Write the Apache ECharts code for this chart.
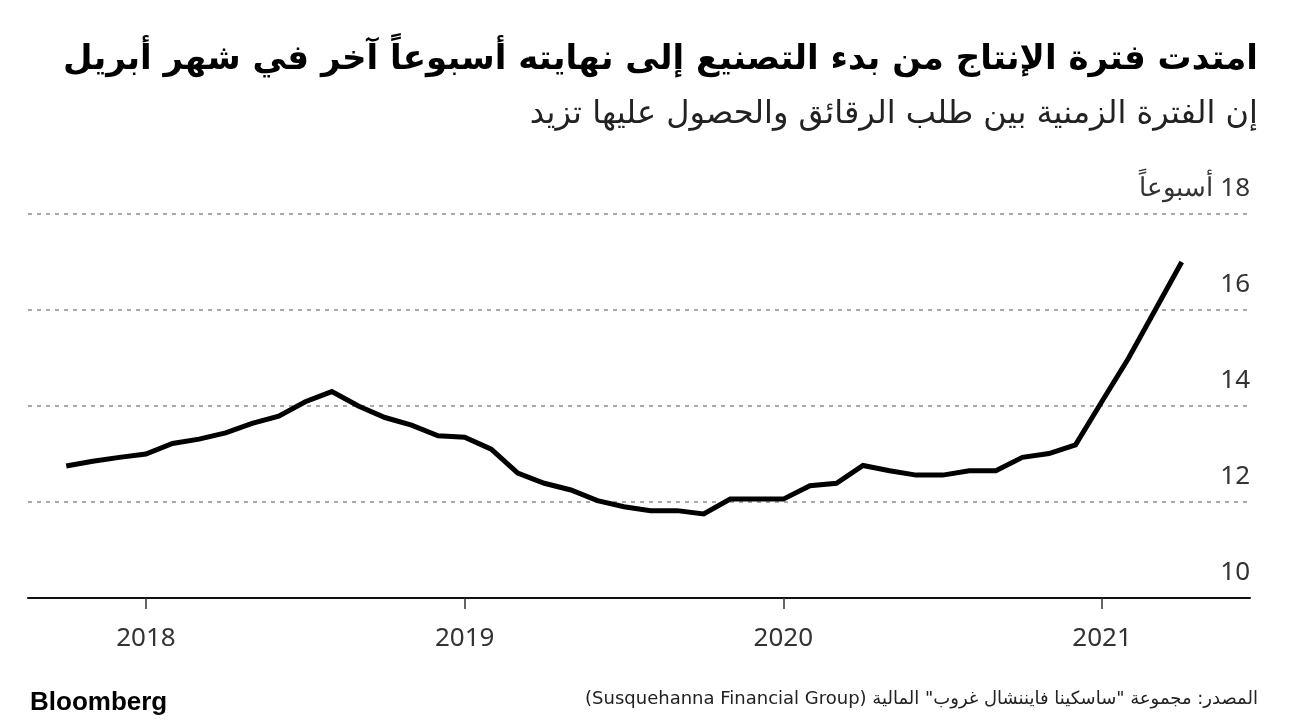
<!DOCTYPE html>
<html>
<head>
<meta charset="utf-8">
<script src="https://cdn.jsdelivr.net/npm/echarts@6/dist/echarts.min.js"></script>
<style>
html,body{margin:0;padding:0;background:#fff;}
#chart{width:1296px;height:728px;direction:rtl;}
</style>
</head>
<body>
<div id="chart"></div>
<script>
const titleText = 'امتدت فترة الإنتاج من بدء التصنيع إلى نهايته أسبوعاً آخر في شهر أبريل';
const subtitleText = 'إن الفترة الزمنية بين طلب الرقائق والحصول عليها تزيد';
const sourceText = 'المصدر: مجموعة "ساسكينا فايننشال غروب" المالية (Susquehanna Financial Group)';
const unitText = 'أسبوعاً';

const months = [
  '2017-10','2017-11','2017-12',
  '2018-01','2018-02','2018-03','2018-04','2018-05','2018-06','2018-07','2018-08','2018-09','2018-10','2018-11','2018-12',
  '2019-01','2019-02','2019-03','2019-04','2019-05','2019-06','2019-07','2019-08','2019-09','2019-10','2019-11','2019-12',
  '2020-01','2020-02','2020-03','2020-04','2020-05','2020-06','2020-07','2020-08','2020-09','2020-10','2020-11','2020-12',
  '2021-01','2021-02','2021-03','2021-04'
];
const leadTimeWeeks = [
  12.75,12.85,12.93,
  13.0,13.22,13.31,13.44,13.64,13.79,14.09,14.30,14.0,13.76,13.6,13.38,
  13.35,13.1,12.6,12.39,12.25,12.03,11.9,11.82,11.82,11.75,12.06,12.06,
  12.06,12.34,12.39,12.76,12.65,12.56,12.56,12.65,12.65,12.93,13.01,13.19,
  14.1,15.0,16.0,17.0
];
const yearLabels = ['2018','2019','2020','2021'];
const yTicks = [10,12,14,16,18];

// months since Jan 2018
function monthIndex(s){ const p = s.split('-'); return (parseInt(p[0])-2018)*12 + (parseInt(p[1])-1); }
const yearTickValues = yearLabels.map(y => monthIndex(y + '-01'));
const seriesData = months.map((m,i) => [monthIndex(m), leadTimeWeeks[i]]);

const chart = echarts.init(document.getElementById('chart'), null, {renderer:'canvas'});
chart.setOption({
  backgroundColor:'#fff',
  animation:false,
  title:[
    {text:titleText, right:33, top:38, textStyle:{fontFamily:'DejaVu Sans', fontWeight:'bold', fontSize:34, color:'#000'}},
    {text:subtitleText, right:33, top:94, textStyle:{fontFamily:'DejaVu Sans', fontWeight:'normal', fontSize:32, color:'#222'}},
    {text:sourceText, right:33, top:685, textStyle:{fontFamily:'DejaVu Sans', fontWeight:'normal', fontSize:18, color:'#222'}},
    {text:'Bloomberg', left:25, top:685, textStyle:{fontFamily:'Liberation Sans', fontWeight:'bold', fontSize:26, color:'#000'}}
  ],
  grid:{left:28, right:46, top:214, bottom:130, containLabel:false},
  xAxis:{
    type:'value',
    min:-4.44, max:41.57,
    axisLine:{show:true, onZero:false, lineStyle:{color:'#111', width:2}},
    axisTick:{show:true, customValues:yearTickValues, length:11, lineStyle:{color:'#333', width:1.5}},
    axisLabel:{show:true, customValues:yearTickValues, margin:28, fontSize:26, fontFamily:'Noto Sans', color:'#333',
      formatter:function(v){ const i = yearTickValues.indexOf(Math.round(v)); return i>=0 ? yearLabels[i] : ''; }},
    splitLine:{show:false}
  },
  yAxis:{
    type:'value', position:'right',
    min:yTicks[0], max:yTicks[yTicks.length-1], interval:2,
    axisLine:{show:false}, axisTick:{show:false},
    splitLine:{show:true, lineStyle:{color:'#aaa', width:2, type:[4,5]}},
    axisLabel:{inside:true, margin:0, fontSize:26, fontFamily:'Noto Sans', color:'#333', align:'right', verticalAlign:'bottom', padding:[0,0,12,0],
      formatter:function(v){ return v === yTicks[yTicks.length-1] ? v + ' ' + unitText : String(v); }}
  },
  series:[{
    type:'line', data:seriesData, showSymbol:false, symbol:'none',
    lineStyle:{color:'#000', width:5, join:'miter'}, z:5
  }]
});
</script>
</body>
</html>
